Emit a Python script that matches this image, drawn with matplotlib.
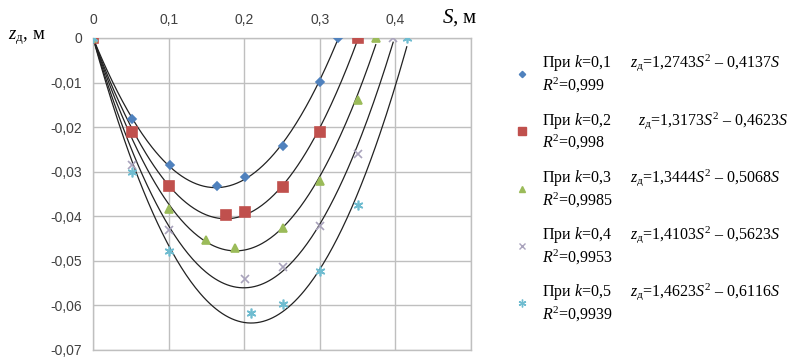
import numpy as np
import matplotlib
matplotlib.use("Agg")
import matplotlib.pyplot as plt
from matplotlib.lines import Line2D

plt.rcParams['mathtext.fontset'] = 'custom'
plt.rcParams['mathtext.rm'] = 'Liberation Serif'
plt.rcParams['mathtext.it'] = 'Liberation Serif:italic'

# measured points, one list per k
k_labels = ['0,1', '0,2', '0,3', '0,4', '0,5']
s_k1 = [0, 0.051, 0.102, 0.164, 0.201, 0.251, 0.300, 0.324]
z_k1 = [0, -0.0182, -0.0286, -0.0331, -0.0313, -0.0242, -0.0099, 0]
s_k2 = [0, 0.051, 0.101, 0.176, 0.201, 0.251, 0.300, 0.350]
z_k2 = [0, -0.0211, -0.0333, -0.0397, -0.0391, -0.0334, -0.0211, 0]
s_k3 = [0, 0.101, 0.150, 0.188, 0.251, 0.300, 0.350, 0.374]
z_k3 = [0, -0.0383, -0.0454, -0.0472, -0.0427, -0.0321, -0.0139, 0]
s_k4 = [0, 0.051, 0.101, 0.201, 0.251, 0.300, 0.350, 0.397]
z_k4 = [0, -0.0284, -0.0430, -0.0541, -0.0513, -0.0422, -0.0260, 0]
s_k5 = [0, 0.051, 0.101, 0.209, 0.251, 0.300, 0.350, 0.415]
z_k5 = [0, -0.0301, -0.0478, -0.0618, -0.0597, -0.0523, -0.0374, 0]

# trend line coefficients z = a*S^2 - b*S
coef_a = [1.2743, 1.3173, 1.3444, 1.4103, 1.4623]
coef_b = [0.4137, 0.4623, 0.5068, 0.5623, 0.6116]
r2 = ['0,999', '0,998', '0,9985', '0,9953', '0,9939']
a_txt = ['1,2743', '1,3173', '1,3444', '1,4103', '1,4623']
b_txt = ['0,4137', '0,4623', '0,5068', '0,5623', '0,6116']

s_all = [s_k1, s_k2, s_k3, s_k4, s_k5]
z_all = [z_k1, z_k2, z_k3, z_k4, z_k5]

markers = ['D', 's', '^', 'x', (6, 2, 0)]
msizes = [4, 7, 6, 6, 7]
colors = ['#4F81BD', '#C0504D', '#9BBB59', '#A9A3BC', '#6FBCD0']

fig = plt.figure(figsize=(8.06, 3.6), dpi=100)
ax = fig.add_axes([0.1154, 0.0278, 0.469, 0.8667])

grid_c = '#BFBFBF'
for i in range(5):
    ss = np.linspace(0, s_all[i][-1], 200)
    ax.plot(ss, coef_a[i] * ss**2 - coef_b[i] * ss, color='#222222', lw=0.9, zorder=2)
for i in range(5):
    ax.plot(s_all[i], z_all[i], ls='none', marker=markers[i], ms=msizes[i],
            color=colors[i], mec=colors[i], mew=1.2, zorder=3)

ax.set_xlim(0, 0.5)
ax.set_ylim(-0.07, 0)
ax.xaxis.tick_top()
ax.set_xticks([0, 0.1, 0.2, 0.3, 0.4, 0.5])
ax.set_xticklabels(['0', '0,1', '0,2', '0,3', '0,4', ''])
yt = [0, -0.01, -0.02, -0.03, -0.04, -0.05, -0.06, -0.07]
ax.set_yticks(yt)
ax.set_yticklabels(['0'] + ['-0,0%d' % j for j in range(1, 8)])
ax.tick_params(length=0, labelsize=10, colors='#404040', pad=8)
for lab in ax.get_xticklabels() + ax.get_yticklabels():
    lab.set_family('Liberation Sans')
ax.grid(True, color=grid_c, lw=1)
for sp in ax.spines.values():
    sp.set_color(grid_c)
    sp.set_linewidth(1)

fig.text(8 / 806, 1 - 38 / 360, r'$z_{\mathrm{д}}$, м', fontsize=13.5,
         family='Liberation Serif', va='center', ha='left')
fig.text(442 / 806, 1 - 18 / 360, r'$S$, м', fontsize=15,
         family='Liberation Serif', va='center', ha='left')

handles = []
labels = []
for i in range(5):
    handles.append(Line2D([], [], ls='none', marker=markers[i], ms=msizes[i] * 0.8,
                          color=colors[i], mec=colors[i], mew=1.0))
    gap = '       ' if i == 1 else '     '
    labels.append('При $k$=' + k_labels[i] + gap + r'$z_{\mathrm{д}}$=' + a_txt[i]
                  + r'$S^{2}$' + ' – ' + b_txt[i] + '$S$' + '\n' + r'$R^{2}$=' + r2[i])
fig.legend(handles, labels, loc='upper left', bbox_to_anchor=(508 / 806, 1 - 46 / 360),
           frameon=False, handlelength=1.0, handletextpad=0.7, labelspacing=0.9,
           prop={'family': 'Liberation Serif', 'size': 11.5}, borderaxespad=0)

fig.savefig('out.png', dpi=100)
